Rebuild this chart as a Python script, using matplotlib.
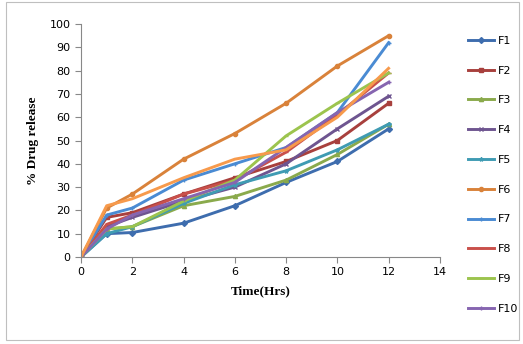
import matplotlib.pyplot as plt
from matplotlib.patches import Rectangle

# zaman noktalari (saat)
time = [0, 1, 2, 4, 6, 8, 10, 12]

labels = ["F1", "F2", "F3", "F4", "F5", "F6", "F7", "F8", "F9", "F10", "_F11"]
f1 = [0, 10, 10.5, 14.5, 22, 32, 41, 55]
f2 = [0, 17, 19, 27, 34, 41, 50, 66]
f3 = [0, 12, 13, 22, 26, 33, 44, 57]
f4 = [0, 13, 17, 24, 30, 40, 55, 69]
f5 = [0, 10, 13, 23, 31, 37, 46, 57]
f6 = [0, 21, 27, 42, 53, 66, 82, 95]
f7 = [0, 18, 21, 33, 40, 47, 62, 92]
f8 = [0, 14, 18, 27, 33, 45, 61, 79]
f9 = [0, 12, 13, 24, 33, 52, 66, 79]
f10 = [0, 12, 18, 25, 32, 47, 62, 75]
f11 = [0, 22, 25, 34, 42, 46, 60, 81]
series = [f1, f2, f3, f4, f5, f6, f7, f8, f9, f10, f11]

colors = ["#3E6DAE", "#A8403D", "#8AAA4C", "#6E5590", "#3F9BB3", "#D9823A",
          "#4A8BD3", "#C9504B", "#9CC44E", "#8665B0", "#F79A4C"]
markers = ["D", "s", "^", "x", "*", "o", "+", "_", "_", "+", None]

fig = plt.figure(figsize=(5.23, 3.44), dpi=100)
fig.patches.append(Rectangle((0.012, 0.012), 0.98, 0.982, transform=fig.transFigure,
                             fill=False, edgecolor="#BFBFBF", linewidth=0.8))

ax = fig.add_axes([0.155, 0.253, 0.686, 0.677])
for vals, lab, c, m in zip(series, labels, colors, markers):
    ax.plot(time, vals, color=c, marker=m, markersize=3, linewidth=2.1, label=lab)

ax.set_xlim(0, 14)
ax.set_ylim(0, 100)
ax.set_xticks(range(0, 15, 2))
ax.set_yticks(range(0, 101, 10))
for s in ["top", "right"]:
    ax.spines[s].set_visible(False)
for s in ["left", "bottom"]:
    ax.spines[s].set_color("#888888")
ax.tick_params(colors="#888888", labelcolor="black", labelsize=8, length=4)
ax.set_xlabel("Time(Hrs)", family="Liberation Serif", fontweight="bold", fontsize=9.5, labelpad=6)
ax.set_ylabel("% Drug release", family="Liberation Serif", fontweight="bold", fontsize=9.5, labelpad=8)

fig.legend(loc="upper left", bbox_to_anchor=(0.875, 0.925), frameon=False, fontsize=8,
           labelspacing=1.78, handlelength=2.4, handletextpad=0.3)

plt.savefig("out.png", dpi=100)
